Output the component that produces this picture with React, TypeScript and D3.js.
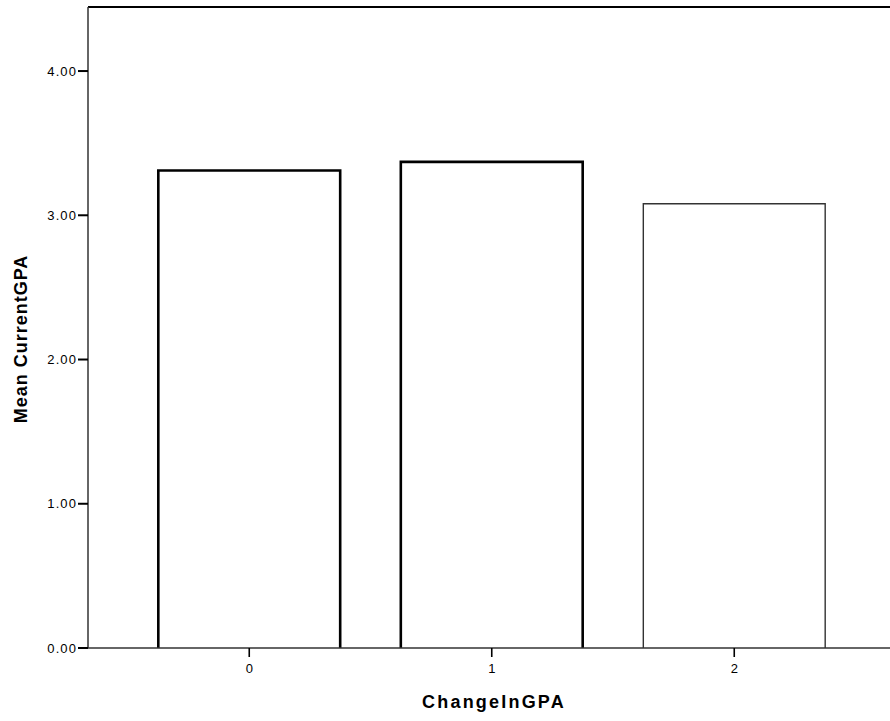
import React from "react";
import * as d3 from "d3";

const categories = ["0", "1", "2"];
const meanValues = [3.31, 3.37, 3.08];
const yTicks = [0, 1, 2, 3, 4];
const xLabel = "ChangeInGPA";
const yLabel = "Mean CurrentGPA";

export default function App() {
  const width = 890;
  const height = 721;
  const left = 88;
  const top = 7;
  const bottom = 648;

  const y = d3.scaleLinear().domain([0, 4.444]).range([bottom, top]);
  const x = d3
    .scaleBand<string>()
    .domain(categories)
    .range([128, 855.5])
    .paddingInner(0.25)
    .paddingOuter(0.125);

  const font = "'Liberation Sans', Arial, sans-serif";
  const strokes = [
    { w: 2.6, c: "#000" },
    { w: 2.6, c: "#000" },
    { w: 1.4, c: "#333" },
  ];

  return (
    <svg
      width={width}
      height={height}
      style={{ position: "absolute", left: 0, top: 0, background: "#fff" }}
    >
      <rect x={0} y={0} width={width} height={height} fill="#fff" />
      {/* bars */}
      {categories.map((c, i) => (
        <path
          key={c}
          d={`M${x(c)!},${bottom} V${y(meanValues[i])} H${x(c)! + x.bandwidth()} V${bottom}`}
          fill="#fff"
          stroke={strokes[i].c}
          strokeWidth={strokes[i].w}
        />
      ))}
      {/* frame */}
      <line x1={left} x2={width} y1={top} y2={top} stroke="#000" strokeWidth={2} />
      <line x1={left} x2={left} y1={top} y2={bottom} stroke="#333" strokeWidth={1.5} />
      <line x1={left} x2={width} y1={bottom} y2={bottom} stroke="#333" strokeWidth={1.5} />
      {/* y ticks */}
      {yTicks.map((t) => (
        <g key={t}>
          <line x1={left - 10} x2={left} y1={y(t)} y2={y(t)} stroke="#000" strokeWidth={2} />
          <text
            x={left - 11}
            y={y(t)}
            dy="0.35em"
            textAnchor="end"
            fontFamily={font}
            fontSize={13}
            letterSpacing={1.1}
            fill="#000"
          >
            {t.toFixed(2)}
          </text>
        </g>
      ))}
      {/* x ticks */}
      {categories.map((c) => {
        const cx = x(c)! + x.bandwidth() / 2;
        return (
          <g key={c}>
            <line x1={cx} x2={cx} y1={bottom} y2={bottom + 9} stroke="#000" strokeWidth={1.6} />
            <text
              x={cx}
              y={bottom + 20}
              dy="0.35em"
              textAnchor="middle"
              fontFamily={font}
              fontSize={13}
              fill="#000"
            >
              {c}
            </text>
          </g>
        );
      })}
      <text
        x={494}
        y={708}
        textAnchor="middle"
        fontFamily={font}
        fontSize={18}
        letterSpacing={2.2}
        fontWeight="bold"
        fill="#000"
      >
        {xLabel}
      </text>
      <text
        transform={`translate(27,${339}) rotate(-90)`}
        textAnchor="middle"
        fontFamily={font}
        fontSize={18}
        letterSpacing={1}
        fontWeight="bold"
        fill="#000"
      >
        {yLabel}
      </text>
    </svg>
  );
}
